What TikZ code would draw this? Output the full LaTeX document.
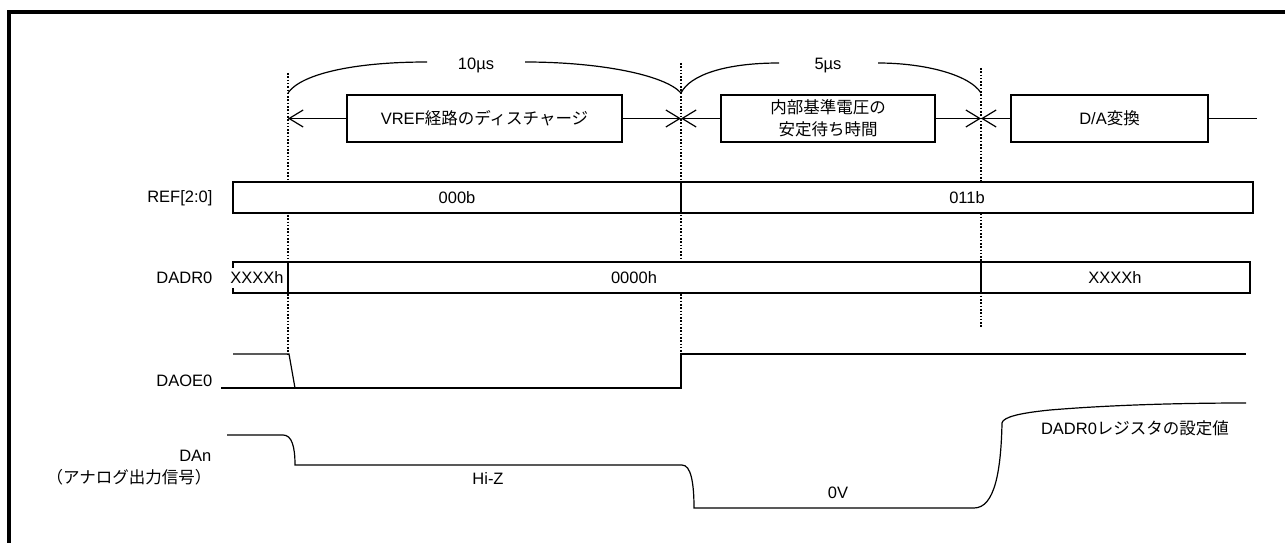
\documentclass[tikz,border=0pt]{standalone}
\usepackage{fontspec}
\setmainfont{Liberation Sans}
\newfontfamily\jp{Noto Sans CJK JP}
\usetikzlibrary{arrows.meta}
\newcommand\fsz{\fontsize{16.5}{22}\selectfont}
\begin{document}
\begin{tikzpicture}[x=1pt,y=-1pt,line width=1.2pt,
  lbl/.style={font=\fsz,inner sep=0pt},
  stagebox/.style={draw,minimum height=47pt,inner sep=0pt,align=center,font=\fsz},
  regbar/.style={draw,fill=white,line width=1.2pt},
  tip/.style={-{Straight Barb[length=14pt,width=17pt,line width=1.2pt]}},
  guide/.style={line width=1.7pt,dash pattern=on 1.6pt off 1.7pt},
  sig/.style={line width=1.2pt},
  frame/.style={line width=3.5pt}]
\useasboundingbox (0,0) rectangle (1285,543);
% frame (top and left edges)
\draw[frame] (9,543) -- (9,12) -- (1285,12);

% time markers
\coordinate (m0) at (288,118.5);
\coordinate (m1) at (681,118.5);
\coordinate (m2) at (981,118.5);
\coordinate (mend) at (1257,118.5);

% guides
\draw[guide] (288,73) -- (288,355);
\draw[guide] (681,63) -- (681,355);
\draw[guide] (981,68) -- (981,327);

% stage boxes
\node[stagebox,minimum width=275pt] (s1) at (484.5,118.5) {VREF{\jp 経路のディスチャージ}};
\node[stagebox,minimum width=214pt] (s2) at (828,118.5) {{\jp 内部基準電圧の}\\{\jp 安定待ち時間}};
\node[stagebox,minimum width=197pt] (s3) at (1109.5,118.5) {D/A{\jp 変換}};
\draw[tip] (s1.west) -- (m0);
\draw[tip] (s1.east) -- (m1);
\draw[tip] (s2.west) -- (m1);
\draw[tip] (s2.east) -- (m2);
\draw[tip] (s3.west) -- (m2);
\draw (s3.east) -- (mend);

% duration braces
\node[lbl] (d10) at (476,65) {10µs};
\node[lbl] (d5) at (828,66) {5µs};
\coordinate (b0) at (288,93);
\coordinate (b1) at (681,93);
\coordinate (b2) at (981,93);
\coordinate (d10l) at (427,62);
\coordinate (d10r) at (525,62);
\coordinate (d5l) at (779,63);
\coordinate (d5r) at (878,63);
\draw (b0) .. controls (300,75) and (350,62) .. (d10l);
\draw (d10r) .. controls (600,62) and (665,75) .. (b1);
\draw (b1) .. controls (690,75) and (725,63) .. (d5l);
\draw (d5r) .. controls (925,63) and (970,75) .. (b2);

% REF[2:0]
\node[lbl,anchor=east] (lref) at (213,198) {REF[2:0]};
\draw[regbar] (233,182) rectangle (1253,213);
\draw (681,182) -- (681,213);
\node[lbl] (ref0) at (457,197.5) {000b};
\node[lbl] (ref1) at (967,197.5) {011b};

% DADR0
\node[lbl,anchor=east] (ldadr) at (213,278) {DADR0};
\draw[regbar] (233,262) rectangle (1250,293);
\draw (288,262) -- (288,293);
\draw (981,262) -- (981,293);
\node[lbl,fill=white,minimum height=20pt] (dx0) at (257,277.5) {XXXXh};
\node[lbl] (dz) at (634,277.5) {0000h};
\node[lbl] (dx1) at (1115,277.5) {XXXXh};

% DAOE0
\node[lbl,anchor=east] (ldaoe) at (213,381) {DAOE0};
\draw[sig] (233,354) -- (289,354) -- (295,388);
\draw[sig] (221,388) -- (681,388) -- (681,354) -- (1246,354);

% DAn
\node[lbl,anchor=east,align=right] (ldan) at (212,468) {DAn\\{\jp （アナログ出力信号）}};
\draw[sig] (227,435) -- (283,435) .. controls (292,435) and (295,447) .. (295,465)
  -- (682,465) .. controls (691,465) and (694,483) .. (694,508)
  -- (974,508) .. controls (995,508) and (1001,470) .. (1002,423)
  .. controls (1003,417) and (1020,413) .. (1050,410)
  .. controls (1110,405) and (1180,403) .. (1246,403);
\node[lbl] (hiz) at (488,479) {Hi-Z};
\node[lbl] (zv) at (838,493) {0V};
\node[lbl] (setv) at (1135,428) {DADR0{\jp レジスタの設定値}};
\end{tikzpicture}
\end{document}
